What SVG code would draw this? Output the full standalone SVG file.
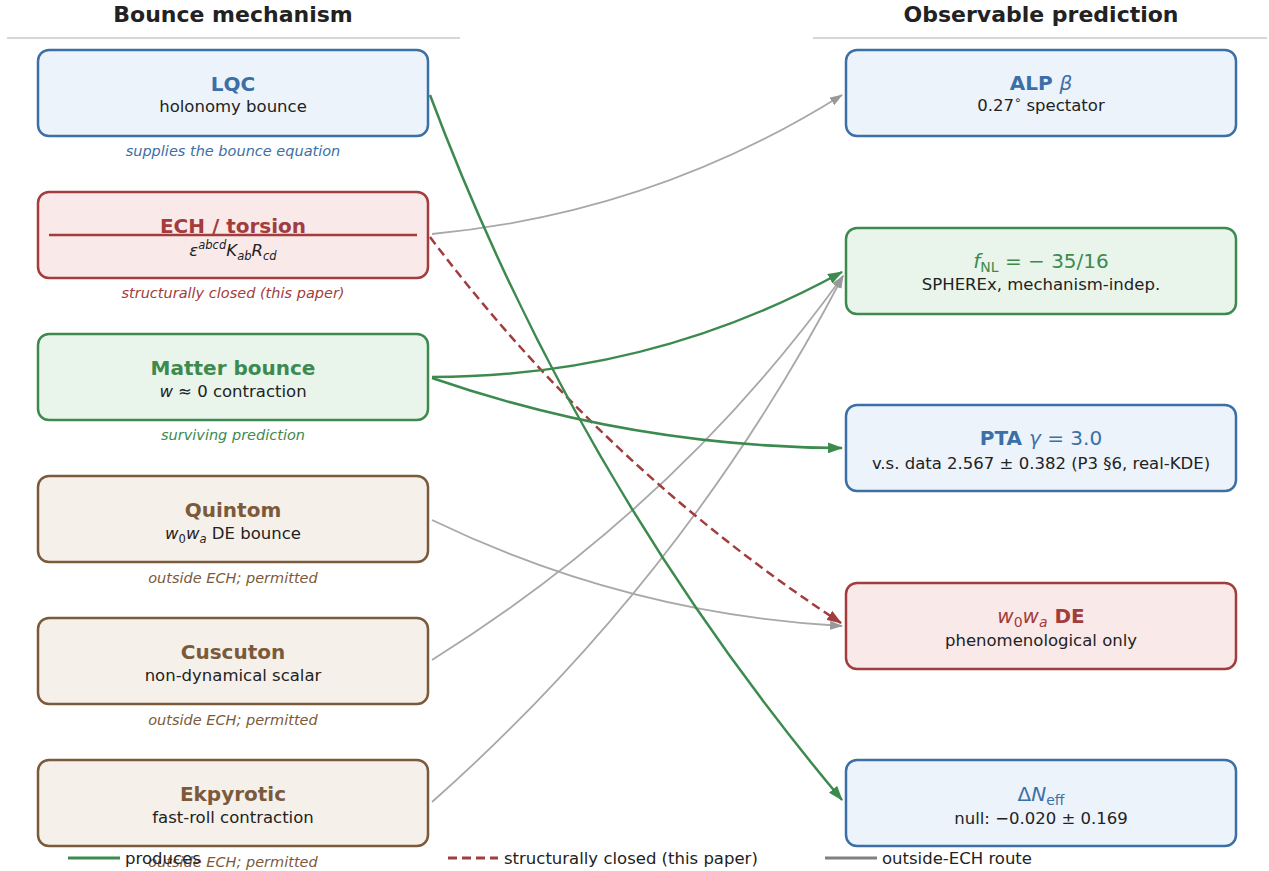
<svg xmlns="http://www.w3.org/2000/svg" width="1269" height="871" viewBox="0 0 1269 871">
<defs>
<style>
text{font-family:"DejaVu Sans","Liberation Sans",sans-serif;}
.hdr{font-size:22px;font-weight:bold;fill:#222;text-anchor:middle;}
.sep{stroke:#c8c8c8;stroke-width:1.6;}
.box{stroke-width:2.5;}
.blue{stroke:#3b6fa6;fill:#ecf3fb;}
.red{stroke:#a33c3c;fill:#f9e9e9;}
.green{stroke:#3d8a4f;fill:#e9f4eb;}
.brown{stroke:#7b5a3c;fill:#f5f0ea;}
.t{font-size:20px;font-weight:bold;text-anchor:middle;}
.s{font-size:16.5px;fill:#222;text-anchor:middle;}
.c{font-size:14.5px;font-style:italic;text-anchor:middle;}
.cb{fill:#3b6fa6;}.cr{fill:#a33c3c;}.cg{fill:#3d8a4f;}.cw{fill:#7b5a3c;}
.i{font-style:italic;font-weight:normal;}
.n{font-weight:normal;}
.sub{font-size:70%;}
.cg1{fill:none;stroke:#3d8a4f;stroke-width:2.5;}
.cr1{fill:none;stroke:#a33c3c;stroke-width:2.5;stroke-dasharray:9,5;}
.cy1{fill:none;stroke:#a8a8a8;stroke-width:1.8;}
.leg{font-size:16.5px;fill:#222;}
</style>
<marker id="ag" viewBox="0 0 14 10" refX="13" refY="5" markerWidth="15" markerHeight="11" markerUnits="userSpaceOnUse" orient="auto"><path d="M0,0 L14,5 L0,10 z" fill="#3d8a4f"/></marker>
<marker id="ar" viewBox="0 0 14 10" refX="13" refY="5" markerWidth="15" markerHeight="11" markerUnits="userSpaceOnUse" orient="auto"><path d="M0,0 L14,5 L0,10 z" fill="#a33c3c"/></marker>
<marker id="ay" viewBox="0 0 13 9" refX="12" refY="4.5" markerWidth="13" markerHeight="9" markerUnits="userSpaceOnUse" orient="auto"><path d="M0,0 L13,4.5 L0,9 z" fill="#999"/></marker>
</defs>
<rect width="1269" height="871" fill="#fff"/>

<g id="headers">
<text class="hdr" x="233" y="22">Bounce mechanism</text>
<line class="sep" x1="7" y1="38" x2="460" y2="38"/>
<text class="hdr" x="1041" y="22">Observable prediction</text>
<line class="sep" x1="813" y1="38" x2="1267" y2="38"/>
</g>

<g id="connectors">
<path class="cy1" d="M432,234 Q654,213 842,95" marker-end="url(#ay)"/>
<path class="cy1" d="M432,520 Q627,614 842,626" marker-end="url(#ay)"/>
<path class="cy1" d="M432,660 Q676,508 843,276" marker-end="url(#ay)"/>
<path class="cy1" d="M432,802 Q686,577 843,276" marker-end="url(#ay)"/>
<path class="cr1" d="M430,237 Q603,467 841,623" marker-end="url(#ar)"/>
<path class="cg1" d="M430,95 Q575,482 842,800" marker-end="url(#ag)"/>
<path class="cg1" d="M432,377 Q651,377 842,272" marker-end="url(#ag)"/>
<path class="cg1" d="M432,378 Q632,447 842,448" marker-end="url(#ag)"/>
</g>

<g id="lqc">
<rect class="box blue" x="38" y="50" width="390" height="86" rx="11"/>
<text class="t cb" x="233" y="91">LQC</text>
<text class="s" x="233" y="112">holonomy bounce</text>
<text class="c cb" x="233" y="156">supplies the bounce equation</text>
</g>

<g id="ech">
<rect class="box red" x="38" y="192" width="390" height="86" rx="11"/>
<text class="t cr" x="233" y="233">ECH / torsion</text>
<line x1="49" y1="235" x2="417" y2="235" stroke="#a33c3c" stroke-width="2.6"/>
<text class="s" x="233" y="256"><tspan font-style="italic">ε</tspan><tspan font-style="italic" class="sub" dy="-7">abcd</tspan><tspan font-style="italic" dy="7">K</tspan><tspan font-style="italic" class="sub" dy="4">ab</tspan><tspan font-style="italic" dy="-4">R</tspan><tspan font-style="italic" class="sub" dy="4">cd</tspan></text>
<text class="c cr" x="233" y="298">structurally closed (this paper)</text>
</g>

<g id="matter">
<rect class="box green" x="38" y="334" width="390" height="86" rx="11"/>
<text class="t cg" x="233" y="375">Matter bounce</text>
<text class="s" x="233" y="397"><tspan font-style="italic">w</tspan> ≈ 0 contraction</text>
<text class="c cg" x="233" y="440">surviving prediction</text>
</g>

<g id="quintom">
<rect class="box brown" x="38" y="476" width="390" height="86" rx="11"/>
<text class="t cw" x="233" y="517">Quintom</text>
<text class="s" x="233" y="539"><tspan font-style="italic">w</tspan><tspan class="sub" dy="4">0</tspan><tspan font-style="italic" dy="-4">w</tspan><tspan font-style="italic" class="sub" dy="4">a</tspan><tspan dy="-4"> DE bounce</tspan></text>
<text class="c cw" x="233" y="583">outside ECH; permitted</text>
</g>

<g id="cuscuton">
<rect class="box brown" x="38" y="618" width="390" height="86" rx="11"/>
<text class="t cw" x="233" y="659">Cuscuton</text>
<text class="s" x="233" y="681">non-dynamical scalar</text>
<text class="c cw" x="233" y="725">outside ECH; permitted</text>
</g>

<g id="ekpyrotic">
<rect class="box brown" x="38" y="760" width="390" height="86" rx="11"/>
<text class="t cw" x="233" y="801">Ekpyrotic</text>
<text class="s" x="233" y="823">fast-roll contraction</text>
<text class="c cw" x="233" y="867">outside ECH; permitted</text>
</g>

<g id="alp">
<rect class="box blue" x="846" y="50" width="390" height="86" rx="11"/>
<text class="t cb" x="1041" y="90">ALP <tspan class="i">β</tspan></text>
<text class="s" x="1041" y="111">0.27<tspan class="sub" dy="-7">∘</tspan><tspan dy="7"> spectator</tspan></text>
</g>

<g id="fnl">
<rect class="box green" x="846" y="228" width="390" height="86" rx="11"/>
<text class="t cg n" x="1041" y="268"><tspan font-style="italic">f</tspan><tspan class="sub" dy="4">NL</tspan><tspan dy="-4"> = − 35/16</tspan></text>
<text class="s" x="1041" y="290">SPHEREx, mechanism-indep.</text>
</g>

<g id="pta">
<rect class="box blue" x="846" y="405" width="390" height="86" rx="11"/>
<text class="t cb" x="1041" y="445">PTA <tspan class="i">γ</tspan><tspan class="n"> = 3.0</tspan></text>
<text class="s" x="1041" y="469">v.s. data 2.567 ± 0.382 (P3 §6, real-KDE)</text>
</g>

<g id="w0wa">
<rect class="box red" x="846" y="583" width="390" height="86" rx="11"/>
<text class="t cr" x="1041" y="623"><tspan class="i">w</tspan><tspan class="n sub" dy="4">0</tspan><tspan class="i" dy="-4">w</tspan><tspan class="i sub" dy="4">a</tspan><tspan dy="-4"> DE</tspan></text>
<text class="s" x="1041" y="646">phenomenological only</text>
</g>

<g id="dneff">
<rect class="box blue" x="846" y="760" width="390" height="86" rx="11"/>
<text class="t cb n" x="1041" y="801">Δ<tspan font-style="italic">N</tspan><tspan class="sub" dy="4">eff</tspan></text>
<text class="s" x="1041" y="824">null: −0.020 ± 0.169</text>
</g>

<g id="legend">
<line x1="68" y1="858" x2="120" y2="858" stroke="#3d8a4f" stroke-width="3"/>
<text class="leg" x="125" y="864">produces</text>
<line x1="448" y1="858" x2="498" y2="858" stroke="#a33c3c" stroke-width="3" stroke-dasharray="9,5"/>
<text class="leg" x="504" y="864">structurally closed (this paper)</text>
<line x1="825" y1="858" x2="877" y2="858" stroke="#808080" stroke-width="3"/>
<text class="leg" x="882" y="864">outside-ECH route</text>
</g>
</svg>
